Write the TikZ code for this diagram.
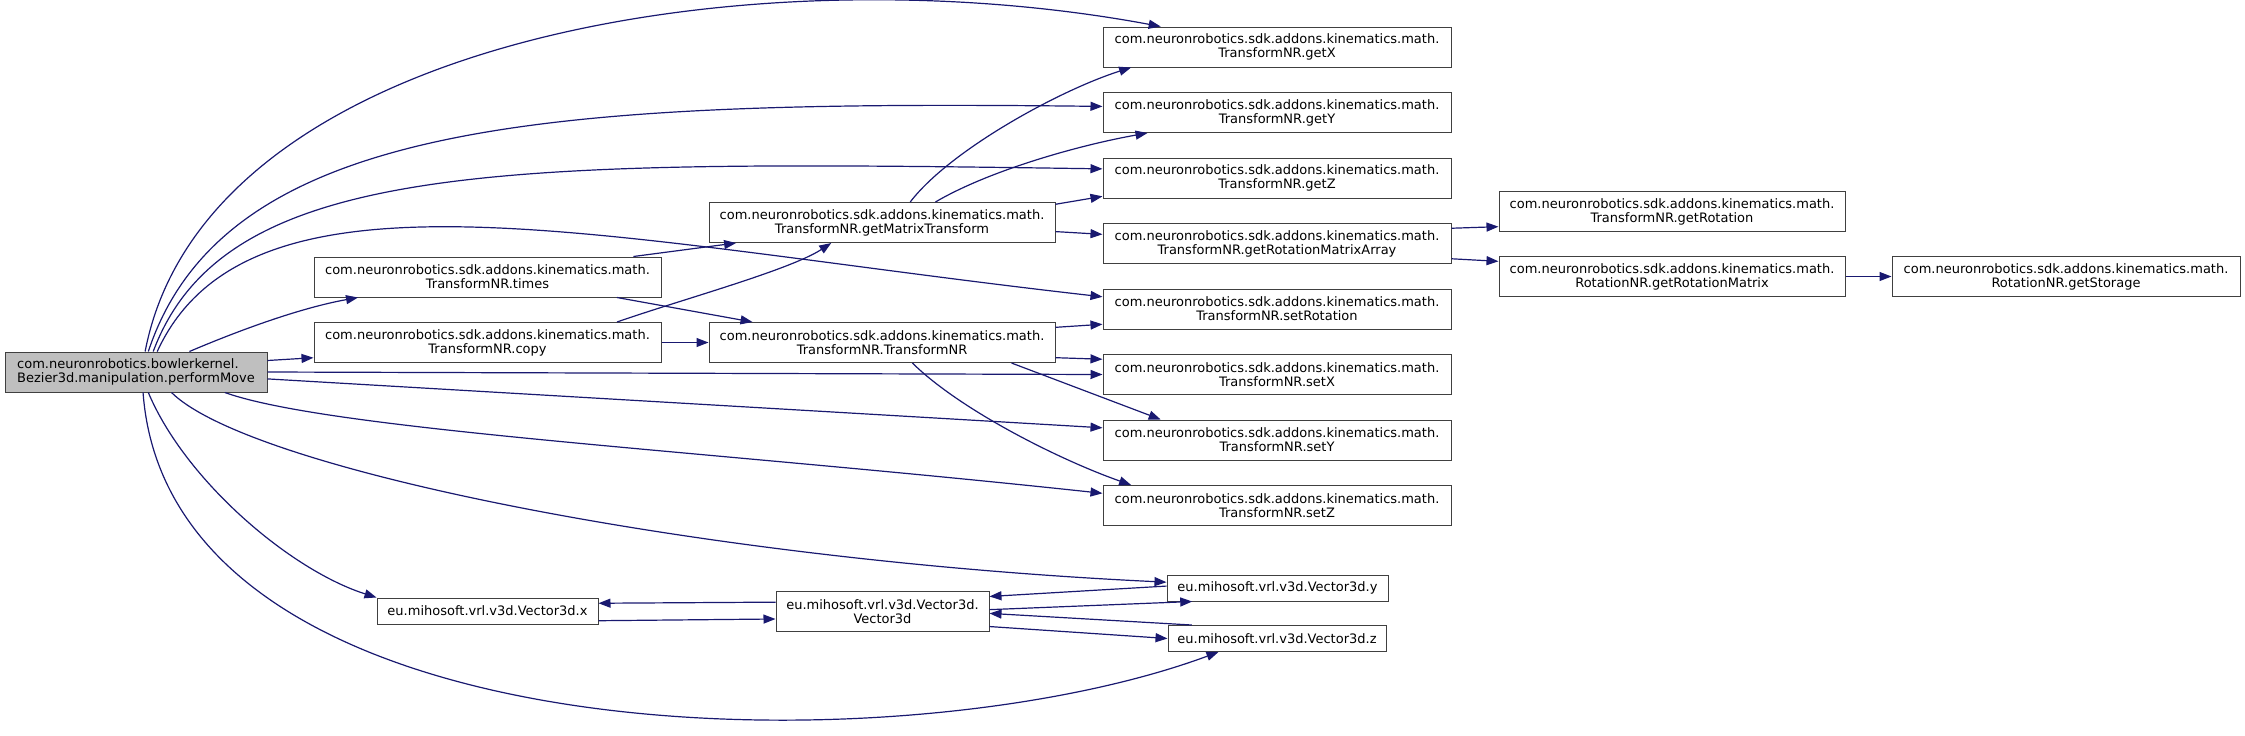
\documentclass[tikz,border=0pt]{standalone}
\usepackage{fontspec}
\setmainfont{DejaVu Sans}
\usetikzlibrary{arrows.meta}
\definecolor{edgeblue}{RGB}{25,25,112}
\definecolor{boxline}{RGB}{64,64,64}
\definecolor{callerfill}{RGB}{191,191,191}

\begin{document}
\begin{tikzpicture}[x=0.5pt,y=-0.5pt,
  fn/.style={draw=boxline,fill=white,line width=0.5pt,inner sep=0pt,minimum width=174pt,
    minimum height=20pt,align=center,font=\fontsize{6.5}{7}\selectfont},
  vec/.style={fn,minimum width=110.5pt,minimum height=13pt},
  call/.style={edgeblue,line width=0.6pt,-{Triangle[length=6pt,width=4.5pt]}}]
\useasboundingbox (0,0) rectangle (2245,735);
% caller
\node[fn,fill=callerfill,minimum width=131pt,align=left] (pm) at (136,372)
  {com.neuronrobotics.bowlerkernel.\\Bezier3d.manipulation.performMove};
% second column
\node[fn,minimum width=173.5pt] (times) at (487.5,277) {com.neuronrobotics.sdk.addons.kinematics.math.\\TransformNR.times};
\node[fn,minimum width=173.5pt] (copy)  at (487.5,342.5) {com.neuronrobotics.sdk.addons.kinematics.math.\\TransformNR.copy};
\node[vec] (vx) at (487.5,611) {eu.mihosoft.vrl.v3d.Vector3d.x};
% third column
\node[fn,minimum width=173pt] (gmt) at (882,222.5) {com.neuronrobotics.sdk.addons.kinematics.math.\\TransformNR.getMatrixTransform};
\node[fn,minimum width=173pt] (tnr) at (882,342.5) {com.neuronrobotics.sdk.addons.kinematics.math.\\TransformNR.TransformNR};
\node[fn,minimum width=106.5pt,minimum height=20pt] (vv) at (882.5,611.5) {eu.mihosoft.vrl.v3d.Vector3d.\\Vector3d};
% fourth column
\node[fn] (getX)   at (1277,47)    {com.neuronrobotics.sdk.addons.kinematics.math.\\TransformNR.getX};
\node[fn] (getY)   at (1277,112.5) {com.neuronrobotics.sdk.addons.kinematics.math.\\TransformNR.getY};
\node[fn] (getZ)   at (1277,178)   {com.neuronrobotics.sdk.addons.kinematics.math.\\TransformNR.getZ};
\node[fn] (getRMA) at (1277,243.5) {com.neuronrobotics.sdk.addons.kinematics.math.\\TransformNR.getRotationMatrixArray};
\node[fn] (setRot) at (1277,309)   {com.neuronrobotics.sdk.addons.kinematics.math.\\TransformNR.setRotation};
\node[fn] (setX)   at (1277,374.5) {com.neuronrobotics.sdk.addons.kinematics.math.\\TransformNR.setX};
\node[fn] (setY)   at (1277,440)   {com.neuronrobotics.sdk.addons.kinematics.math.\\TransformNR.setY};
\node[fn] (setZ)   at (1277,505.5) {com.neuronrobotics.sdk.addons.kinematics.math.\\TransformNR.setZ};
\node[vec] (vy) at (1277.5,588) {eu.mihosoft.vrl.v3d.Vector3d.y};
\node[vec,minimum width=109pt] (vz) at (1277,638.5) {eu.mihosoft.vrl.v3d.Vector3d.z};
% fifth and sixth column
\node[fn,minimum width=173pt] (getRot) at (1672,211.5) {com.neuronrobotics.sdk.addons.kinematics.math.\\TransformNR.getRotation};
\node[fn,minimum width=173pt] (grm)    at (1672,276.5) {com.neuronrobotics.sdk.addons.kinematics.math.\\RotationNR.getRotationMatrix};
\node[fn] (gst) at (2066,276.5) {com.neuronrobotics.sdk.addons.kinematics.math.\\RotationNR.getStorage};
% calls of performMove
\draw[call] (pm.66) .. controls (205,40) and (750,-50) .. (getX.170);
\draw[call] (pm.59) .. controls (225,120) and (550,100) .. (getY.178);
\draw[call] (pm.50) .. controls (225,160) and (500,160) .. (getZ.177);
\draw[call] (pm.44) .. controls (250,150) and (600,240) .. (setRot.176);
\draw[call] (pm.21) .. controls (240,330) and (300,308) .. (times.189);
\draw[call] (pm.5) -- (copy.185);
\draw[call] (pm.east) -- (setX.west);
\draw[call] (pm.357) -- (setY.176);
\draw[call] (pm.347) .. controls (330,430) and (700,450) .. (setZ.176);
\draw[call] (pm.330) .. controls (250,470) and (700,560) .. (vy.177);
\draw[call] (pm.301) .. controls (185,480) and (290,570) .. (vx.north west);
\draw[call] (pm.289) .. controls (170,760) and (900,770) .. (vz.193);
% TransformNR calls
\draw[call] (times.8) -- (gmt.188);
\draw[call] (times.351) -- (tnr.171);
\draw[call] (copy.9) .. controls (680,300) and (790,270) .. (gmt.202);
\draw[call] (copy.east) -- (tnr.west);
\draw[call] (gmt.36) .. controls (950,150) and (1060,90) .. (getX.188);
\draw[call] (gmt.21) .. controls (990,170) and (1080,145) .. (getY.189);
\draw[call] (gmt.6) -- (getZ.186);
\draw[call] (gmt.357) -- (getRMA.177);
\draw[call] (tnr.5) -- (setRot.185);
\draw[call] (tnr.355) -- (setX.175);
\draw[call] (tnr.351) -- (setY.170);
\draw[call] (tnr.326) .. controls (960,410) and (1060,460) .. (setZ.172);
\draw[call] (getRMA.5) -- (getRot.185);
\draw[call] (getRMA.355) -- (grm.175);
\draw[call] (grm.east) -- (gst.west);
% Vector3d calls
\draw[call] (vv.175) -- (vx.4);
\draw[call] (vx.355) -- (vv.184);
\draw[call] (vy.179) -- (vv.8);
\draw[call] (vv.1) -- (vy.189);
\draw[call] (vz.171) -- (vv.359);
\draw[call] (vv.352) -- (vz.west);
\end{tikzpicture}
\end{document}
